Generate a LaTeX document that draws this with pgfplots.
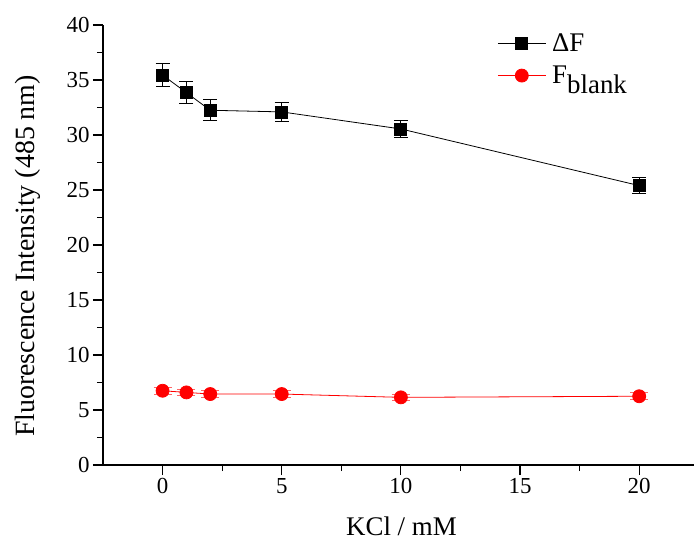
\documentclass[border=0pt]{standalone}
\usepackage{fontspec}
\setmainfont{Liberation Serif}
\usepackage{pgfplots}
\pgfplotsset{compat=1.18}
\begin{document}
\begin{tikzpicture}
\useasboundingbox (-103bp,-78bp) rectangle (591bp,465bp);
\begin{axis}[
  at={(0,0)}, anchor=south west,
  scale only axis, width=591bp, height=440bp,
  xmin=-2.5, xmax=22.3, ymin=0, ymax=40,
  axis x line=bottom, axis y line=left,
  axis line style={-, line width=1.3pt},
  xtick={0,5,...,20}, ytick={0,5,...,40},
  minor x tick num=1, minor y tick num=1,
  tick align=outside, major tick length=10bp, minor tick length=6bp,
  every tick/.style={line width=1.1pt, black},
  /pgf/number format/assume math mode=true,
  ticklabel style={font=\fontsize{23}{26}\selectfont},
  xlabel={KCl / mM},
  ylabel={Fluorescence Intensity (485 nm)},
  xlabel style={font=\fontsize{27}{30}\selectfont, at={(axis description cs:0.505,0)}, anchor=base, yshift=-70bp},
  ylabel style={font=\fontsize{28}{32}\selectfont, at={(axis description cs:0,0.475)}, anchor=base, yshift=68bp},
  legend style={draw=none, fill=none, at={(axis description cs:0.667,0.985)}, anchor=north west,
    font=\fontsize{27}{30}\selectfont, row sep=9bp, inner sep=0pt,
    /tikz/every even column/.append style={column sep=0bp}},
  legend cell align=left,
  legend image code/.code={\draw[mark repeat=2,mark phase=2,#1] plot coordinates {(0bp,0bp) (24bp,0bp) (48bp,0bp)};},
]
\addplot[black, line width=0.8bp, mark=square*, mark size=6bp, mark options={solid},
  error bars/.cd, y dir=both, y explicit,
  error bar style={line width=1bp, black},
  error mark options={rotate=90, mark size=7bp, line width=1bp, black}]
  coordinates {
  (0,35.45) +- (0,1.05)
  (1,33.85) +- (0,1.0)
  (2,32.25) +- (0,0.95)
  (5,32.1) +- (0,0.9)
  (10,30.55) +- (0,0.8)
  (20,25.4) +- (0,0.75)
  };
\addlegendentry{\hspace{4bp}ΔF}
\addplot[red, line width=0.8bp, mark=*, mark size=6.5bp, mark options={solid},
  error bars/.cd, y dir=both, y explicit,
  error bar style={line width=1bp, red!60},
  error mark options={rotate=90, mark size=9bp, line width=1bp, red!60}]
  coordinates {
  (0,6.75) +- (0,0.3)
  (1,6.6) +- (0,0.3)
  (2,6.45) +- (0,0.3)
  (5,6.45) +- (0,0.3)
  (10,6.15) +- (0,0.3)
  (20,6.25) +- (0,0.3)
  };
\addlegendentry{\hspace{4bp}F\raisebox{-0.38em}{blank}}
\end{axis}
\end{tikzpicture}
\end{document}
